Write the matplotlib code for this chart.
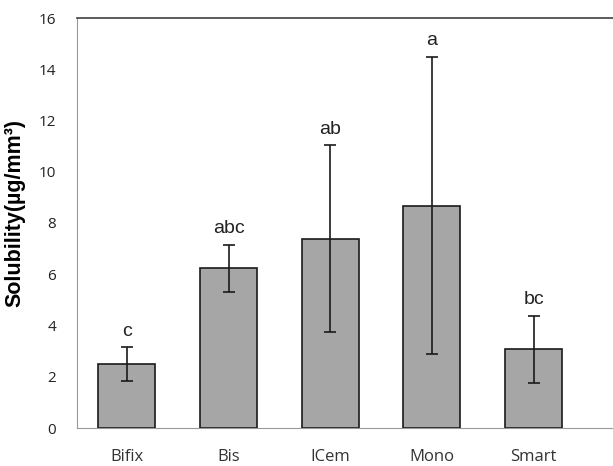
import matplotlib.pyplot as plt

groups = ['Bifix', 'Bis', 'ICem', 'Mono', 'Smart']
solubility = [2.5, 6.23, 7.38, 8.68, 3.07]
sd = [0.65, 0.93, 3.65, 5.8, 1.3]
letters = ['c', 'abc', 'ab', 'a', 'bc']

fig = plt.figure(figsize=(6.13, 4.66), dpi=100)
ax = fig.add_axes([77 / 613, 38 / 466, 1 - 77 / 613, 410 / 466])

x = range(len(groups))
ax.bar(x, solubility, width=0.56, color='#a6a6a6', edgecolor='#1a1a1a',
       linewidth=1.2, zorder=2)
ax.errorbar(x, solubility, yerr=sd, fmt='none', ecolor='#1a1a1a',
            elinewidth=1.2, capsize=4.5, capthick=1.2, zorder=3)

for i, (v, e, t) in enumerate(zip(solubility, sd, letters)):
    ax.text(i, v + e + 0.3, t, ha='center', va='bottom',
            fontsize=14, family='Liberation Sans', color='#222222')

ax.set_xlim(-0.49, 4.78)
ax.set_ylim(0, 16)
ax.set_yticks(range(0, 17, 2))
ax.set_xticks(list(x))
ax.set_xticklabels(groups, family='Open Sans', fontsize=12, color='#333333')
for lab in ax.get_yticklabels():
    lab.set_family('Open Sans')
    lab.set_fontsize(11)
    lab.set_color('#222222')
ax.tick_params(axis='x', length=0, pad=15)
ax.tick_params(axis='y', length=0, pad=15)

ax.set_ylabel('Solubility(µg/mm³)', family='Liberation Sans', fontsize=15.5,
              fontweight='bold')
ax.yaxis.set_label_coords(-0.097, 0.525)

ax.spines['right'].set_visible(False)
ax.spines['top'].set_color('#404040')
ax.spines['top'].set_linewidth(1.2)
ax.spines['left'].set_color('#999999')
ax.spines['bottom'].set_color('#999999')

plt.savefig('out.png', dpi=100)
